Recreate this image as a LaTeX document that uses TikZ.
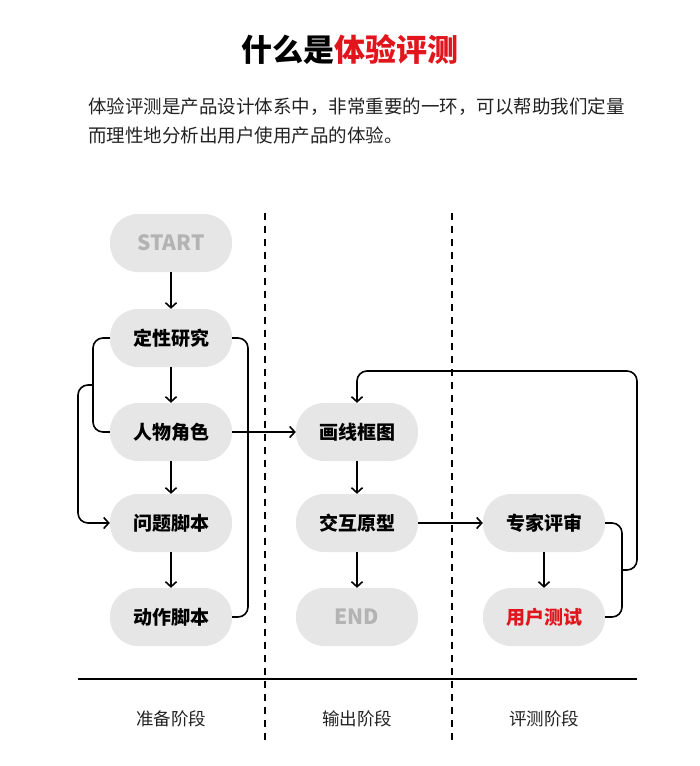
\documentclass[tikz,border=0pt]{standalone}
\usepackage{fontspec}
\setmainfont{Noto Sans CJK SC}
\usepackage{tikz}
\usetikzlibrary{arrows.meta, positioning, calc}

\definecolor{pillgray}{HTML}{E6E6E6}
\definecolor{fadetext}{HTML}{B3B3B3}
\definecolor{hotred}{HTML}{E0161C}
\definecolor{bodytext}{HTML}{222222}

\begin{document}
\begin{tikzpicture}[
    x=1pt, y=-1pt,
    pill/.style={rectangle, fill=pillgray, rounded corners=28pt, minimum width=122pt, minimum height=58pt, inner sep=0pt, font=\fontsize{19}{19}\selectfont\bfseries},
    flow/.style={line width=1.6pt, -{Straight Barb[length=5pt, width=11pt, line width=1.6pt]}},
    link/.style={line width=1.6pt, rounded corners=10pt},
    lane/.style={line width=1.8pt, dash pattern=on 7pt off 6pt},
    phase/.style={font=\fontsize{17.5}{17.5}\selectfont, text=bodytext}
    ]
    \useasboundingbox (0,0) rectangle (700,766);

    % Title and intro
    \node[font=\fontsize{31}{31}\selectfont\bfseries] (title) at (350,50) {什么是\textcolor{hotred}{体验评测}};
    \node[anchor=west, font=\fontsize{18.5}{18.5}\selectfont, text=bodytext, inner sep=0pt] (intro1) at (88,107) {体验评测是产品设计体系中，非常重要的一环，可以帮助我们定量};
    \node[anchor=west, font=\fontsize{18.5}{18.5}\selectfont, text=bodytext, inner sep=0pt] (intro2) at (88,135) {而理性地分析出用户使用产品的体验。};

    % Lanes
    \draw[lane] (265,213) -- (265,740);
    \draw[lane] (452,213) -- (452,740);
    \draw[line width=1.8pt] (78,679) -- (637,679);

    % Prepare column
    \node[pill, text=fadetext, font=\fontsize{21}{21}\selectfont\bfseries] (start) at (171,243) {START};
    \node[pill] (qual) at (171,338) {定性研究};
    \node[pill] (persona) at (171,432) {人物角色};
    \node[pill] (problem) at (171,523) {问题脚本};
    \node[pill] (action) at (171,617) {动作脚本};

    % Output column
    \node[pill] (wire) at (357,432) {画线框图};
    \node[pill] (proto) at (357,523) {交互原型};
    \node[pill, text=fadetext, font=\fontsize{21}{21}\selectfont\bfseries] (finish) at (357,617) {END};

    % Review column
    \node[pill] (expert) at (544,523) {专家评审};
    \node[pill, text=hotred] (usertest) at (544,617) {用户测试};

    % Phase labels
    \node[phase] (prep) at (171,719) {准备阶段};
    \node[phase] (outp) at (357,719) {输出阶段};
    \node[phase] (eval) at (544,719) {评测阶段};

    % Arrows down
    \draw[flow] (start) -- (qual);
    \draw[flow] (qual) -- (persona);
    \draw[flow] (persona) -- (problem);
    \draw[flow] (problem) -- (action);
    \draw[flow] (wire) -- (proto);
    \draw[flow] (proto) -- (finish);
    \draw[flow] (expert) -- (usertest);

    % Brackets
    \draw[link] (qual.west) -- (93,338) -- (93,432) -- (persona.west);
    \coordinate (leftjoin) at (93,385);
    \draw[link, flow] (leftjoin) -- (78,385) -- (78,523) -- (problem.west);
    \draw[link] (qual.east) -- (248,338) -- (248,617) -- (action.east);
    \draw[flow] (persona.east) -- (wire.west);
    \draw[flow] (proto.east) -- (expert.west);

    % Loop back
    \draw[link] (expert.east) -- (622,523) -- (622,617) -- (usertest.east);
    \coordinate (rightjoin) at (622,570);
    \draw[link, flow] (rightjoin) -- (637,570) -- (637,371) -- (357,371) -- (wire.north);

\end{tikzpicture}
\end{document}
